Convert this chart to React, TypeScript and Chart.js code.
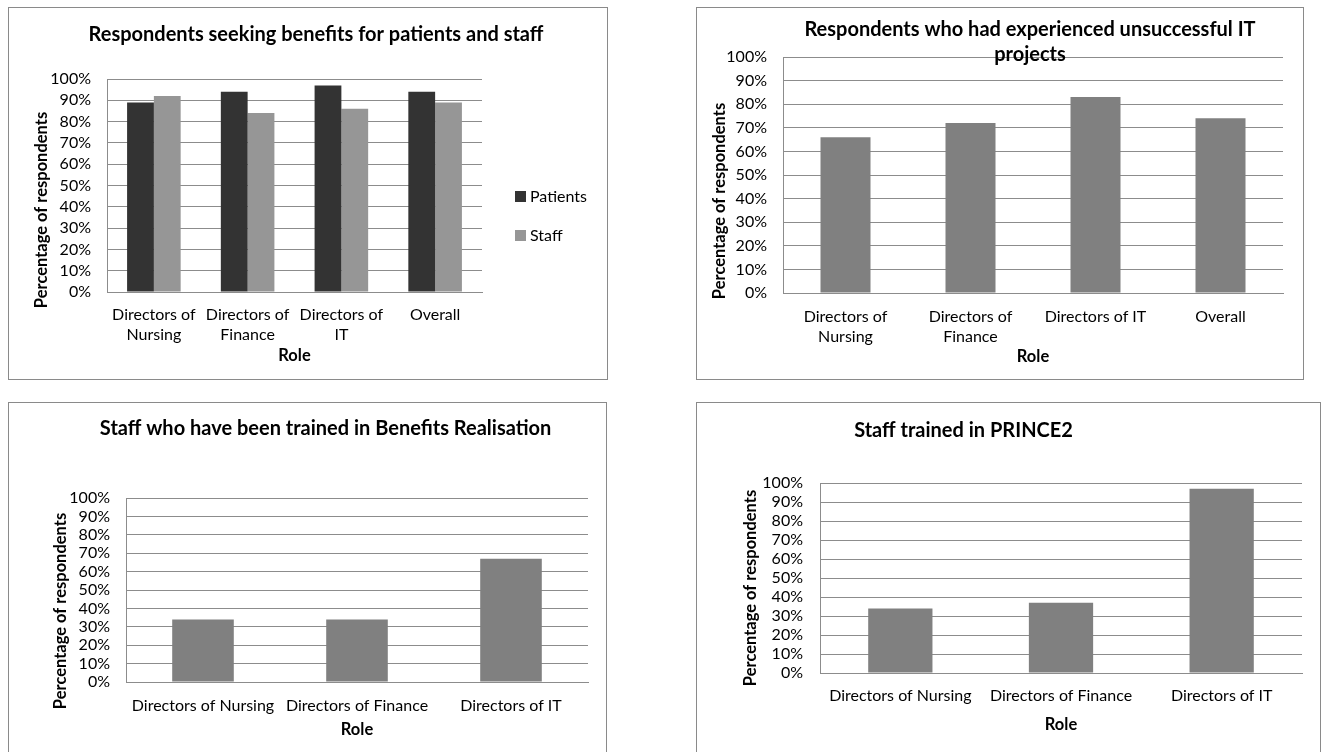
import React, { useEffect, useRef } from 'react';
import { Chart, registerables } from 'chart.js';

Chart.register(...registerables);

// ---------------- data ----------------
const ROLES_FOUR = [['Directors of', 'Nursing'], ['Directors of', 'Finance'], ['Directors of', 'IT'], 'Overall'];
const PATIENTS = [89, 94, 97, 94];
const STAFF = [92, 84, 86, 89];

const ROLES_FOUR_B = [['Directors of', 'Nursing'], ['Directors of', 'Finance'], 'Directors of IT', 'Overall'];
const UNSUCCESSFUL_IT = [66, 72, 83, 74];

const ROLES_THREE = ['Directors of Nursing', 'Directors of Finance', 'Directors of IT'];
const TRAINED_BENEFITS = [34, 34, 67];
const TRAINED_PRINCE2 = [34, 37, 97];

const TITLE_1 = ['Respondents seeking benefits for patients and staff'];
const TITLE_2 = ['Respondents who had experienced unsuccessful IT', 'projects'];
const TITLE_3 = ['Staff who have been trained in Benefits Realisation'];
const TITLE_4 = ['Staff trained in PRINCE2'];

const Y_TITLE = 'Percentage of respondents';
const X_TITLE = 'Role';
const Y_TICK_VALUES = [0, 10, 20, 30, 40, 50, 60, 70, 80, 90, 100];

// ---------------- styles ----------------
const FONT = 'Lato, "Open Sans", sans-serif';
const TICK_SIZE = 16;
const TICK_LH = 1.25;
const AXIS_SIZE = 16.5;
const TITLE_SIZE = 20;
const GRID = '#8c8c8c';
const DARK = '#333333';
const LIGHT = '#969696';
const MID = '#808080';

type Spec = {
  box: { left: number; top: number; width: number; height: number };
  plot: { l: number; r: number; t: number; b: number };
  yLabelRight: number;
  xLabelY: number;
  roleY: number;
  title: { lines: string[]; x: number; y: number; gap: number };
  yTitle: { x: number; y: number };
  legend?: { x: number; ys: number[] };
  categories: (string | string[])[];
  datasets: { label: string; data: number[]; color: string }[];
  categoryPercentage: number;
  barPercentage: number;
};

const SPECS: Spec[] = [
  {
    box: { left: 8, top: 7, width: 600, height: 373 },
    plot: { l: 107, r: 482, t: 79, b: 292 },
    yLabelRight: 91,
    xLabelY: 315,
    roleY: 356,
    title: { lines: TITLE_1, x: 316, y: 35, gap: 25 },
    yTitle: { x: 42, y: 210 },
    legend: { x: 515, ys: [196, 235] },
    categories: ROLES_FOUR,
    datasets: [
      { label: 'Patients', data: PATIENTS, color: DARK },
      { label: 'Staff', data: STAFF, color: LIGHT },
    ],
    categoryPercentage: 2 / 3.5,
    barPercentage: 1,
  },
  {
    box: { left: 696, top: 7, width: 608, height: 373 },
    plot: { l: 783, r: 1283, t: 57, b: 293 },
    yLabelRight: 767,
    xLabelY: 317,
    roleY: 357,
    title: { lines: TITLE_2, x: 1030, y: 30, gap: 25 },
    yTitle: { x: 719.5, y: 201 },
    categories: ROLES_FOUR_B,
    datasets: [{ label: 'Respondents', data: UNSUCCESSFUL_IT, color: MID }],
    categoryPercentage: 1,
    barPercentage: 0.4,
  },
  {
    box: { left: 8, top: 402, width: 599, height: 360 },
    plot: { l: 126, r: 588, t: 498, b: 682 },
    yLabelRight: 110,
    xLabelY: 706,
    roleY: 730,
    title: { lines: TITLE_3, x: 325.6, y: 429, gap: 25 },
    yTitle: { x: 61, y: 611 },
    categories: ROLES_THREE,
    datasets: [{ label: 'Staff', data: TRAINED_BENEFITS, color: MID }],
    categoryPercentage: 1,
    barPercentage: 0.4,
  },
  {
    box: { left: 696, top: 402, width: 625, height: 360 },
    plot: { l: 820, r: 1302, t: 483, b: 673 },
    yLabelRight: 803,
    xLabelY: 696,
    roleY: 725,
    title: { lines: TITLE_4, x: 963.5, y: 431, gap: 25 },
    yTitle: { x: 751, y: 588 },
    categories: ROLES_THREE,
    datasets: [{ label: 'Staff', data: TRAINED_PRINCE2, color: MID }],
    categoryPercentage: 1,
    barPercentage: 0.4,
  },
];

function makeTextPlugin(spec: Spec, ox: number, oy: number) {
  return {
    id: 'panelText',
    afterDraw(chart: any) {
      const ctx = chart.ctx as CanvasRenderingContext2D;
      ctx.save();
      ctx.fillStyle = '#000';
      ctx.textAlign = 'center';
      ctx.textBaseline = 'middle';
      ctx.font = `bold ${TITLE_SIZE}px ${FONT}`;
      spec.title.lines.forEach((line, i) => {
        ctx.fillText(line, spec.title.x - ox, spec.title.y - oy + i * spec.title.gap);
      });
      ctx.save();
      ctx.translate(spec.yTitle.x - ox, spec.yTitle.y - oy);
      ctx.rotate(-Math.PI / 2);
      ctx.font = `bold ${AXIS_SIZE}px ${FONT}`;
      ctx.fillText(Y_TITLE, 0, 0);
      ctx.restore();
      if (spec.legend) {
        const lg = spec.legend;
        ctx.font = `${TICK_SIZE}px ${FONT}`;
        ctx.textAlign = 'left';
        chart.data.datasets.forEach((ds: any, i: number) => {
          const cy = lg.ys[i] - oy;
          ctx.fillStyle = ds.backgroundColor;
          ctx.fillRect(lg.x - ox, cy - 5, 11, 11);
          ctx.fillStyle = '#000';
          ctx.fillText(ds.label, lg.x - ox + 15, cy + 1);
        });
      }
      ctx.restore();
    },
  };
}

function Panel({ spec }: { spec: Spec }) {
  const ref = useRef<HTMLCanvasElement | null>(null);
  const ox = spec.box.left + 1;
  const oy = spec.box.top + 1;
  const cw = spec.box.width - 2;
  const ch = spec.box.height - 2;

  useEffect(() => {
    if (!ref.current) return;
    const pl = spec.plot.l - ox;
    const pr = spec.plot.r - ox;
    const pt = spec.plot.t - oy;
    const pb = spec.plot.b - oy;
    const tickLH = TICK_SIZE * TICK_LH;
    const xTickPad = spec.xLabelY - oy - pb - tickLH / 2;
    const axisLH = AXIS_SIZE * 1.2;
    const xAxisH = spec.roleY - oy - pb + axisLH / 2;
    const padBottom = ch - pb - xAxisH;
    const yTickPad = pl - (spec.yLabelRight - ox);

    const chart = new Chart(ref.current, {
      type: 'bar',
      data: {
        labels: spec.categories as any,
        datasets: spec.datasets.map((d) => ({
          label: d.label,
          data: d.data,
          backgroundColor: d.color,
          borderWidth: 0,
          categoryPercentage: spec.categoryPercentage,
          barPercentage: spec.barPercentage,
        })),
      },
      options: {
        animation: false,
        responsive: false,
        maintainAspectRatio: false,
        devicePixelRatio: 1,
        layout: { padding: { left: 0, top: pt, right: cw - pr, bottom: padBottom } },
        plugins: {
          legend: { display: false },
          title: { display: false },
          tooltip: { enabled: false },
        },
        scales: {
          x: {
            grid: { display: false, drawTicks: false },
            border: { display: true, color: GRID, width: 1 },
            ticks: {
              color: '#000',
              font: { family: FONT, size: TICK_SIZE, lineHeight: TICK_LH },
              padding: xTickPad,
              autoSkip: false,
              maxRotation: 0,
              minRotation: 0,
            },
            title: {
              display: true,
              text: X_TITLE,
              color: '#000',
              font: { family: FONT, size: AXIS_SIZE, weight: 'bold', lineHeight: 1.2 },
              padding: 0,
            },
            afterFit: (s: any) => {
              s.height = xAxisH;
            },
          },
          y: {
            min: 0,
            max: 100,
            afterBuildTicks: (s: any) => {
              s.ticks = Y_TICK_VALUES.map((v) => ({ value: v }));
            },
            ticks: {
              color: '#000',
              font: { family: FONT, size: TICK_SIZE },
              padding: yTickPad,
              autoSkip: false,
              callback: (v: any) => `${v}%`,
            },
            grid: { color: GRID, lineWidth: 1, drawTicks: false },
            border: { display: true, color: GRID, width: 1 },
            afterFit: (s: any) => {
              s.width = pl;
            },
          },
        },
      } as any,
      plugins: [makeTextPlugin(spec, ox, oy)],
    });
    return () => chart.destroy();
  }, [spec]);

  return (
    <div
      style={{
        position: 'absolute',
        left: spec.box.left,
        top: spec.box.top,
        width: spec.box.width,
        height: spec.box.height,
        border: '1px solid #8a8a8a',
        boxSizing: 'border-box',
        background: '#fff',
      }}
    >
      <canvas ref={ref} width={cw} height={ch} style={{ display: 'block', width: cw, height: ch }} />
    </div>
  );
}

export default function App() {
  return (
    <div
      style={{
        position: 'absolute',
        left: 0,
        top: 0,
        width: 1328,
        height: 752,
        overflow: 'hidden',
        background: '#fff',
      }}
    >
      {SPECS.map((s, i) => (
        <Panel key={i} spec={s} />
      ))}
    </div>
  );
}
